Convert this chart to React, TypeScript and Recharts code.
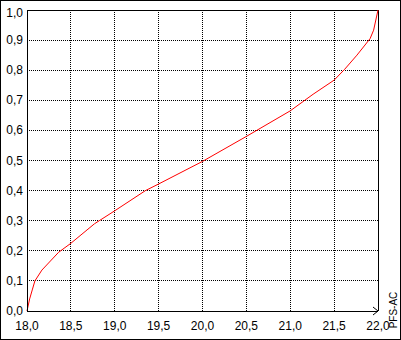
import {
  LineChart,
  Line,
  XAxis,
  YAxis,
  CartesianGrid,
  ReferenceLine,
  ReferenceDot,
} from "recharts";

const xValues = [
  18.0, 18.03, 18.06, 18.09, 18.17, 18.36, 18.5, 18.77, 19.0, 19.35, 19.5,
  20.0, 20.5, 21.0, 21.26, 21.5, 21.62, 21.76, 21.91, 21.95, 22.0,
];
const yValues = [
  0, 0.04, 0.07, 0.1, 0.136, 0.195, 0.225, 0.29, 0.333, 0.4, 0.422, 0.497,
  0.58, 0.665, 0.72, 0.767, 0.803, 0.85, 0.905, 0.933, 1.0,
];
const xTicks = [18, 18.5, 19, 19.5, 20, 20.5, 21, 21.5, 22];
const yTicks = [0, 0.1, 0.2, 0.3, 0.4, 0.5, 0.6, 0.7, 0.8, 0.9, 1.0];
const axisName = "PFS-AC";

const data = xValues.map((x, i) => ({ x, y: yValues[i] }));

const FONT = '"Liberation Sans", Arial, sans-serif';
const fmt = (v: number) => v.toFixed(1).replace(".", ",");

const XTick = ({ x, y, payload }: any) => (
  <text x={x} y={y} dy={19} textAnchor="middle" fontSize={12} fontFamily={FONT} fill="#000">
    {fmt(payload.value)}
  </text>
);

const YTick = ({ x, y, payload }: any) => (
  <text
    x={x}
    y={y}
    dy={payload.value === 1 ? 7 : 4}
    textAnchor="end"
    fontSize={12}
    fontFamily={FONT}
    fill="#000"
  >
    {fmt(payload.value)}
  </text>
);

const AxisName = ({ viewBox }: any) => {
  const cx = viewBox.x + viewBox.width + 19;
  const cy = 310;
  return (
    <text
      x={cx}
      y={cy}
      transform={`rotate(-90, ${cx}, ${cy})`}
      textAnchor="middle"
      fontSize={10}
      fontFamily={FONT}
      fill="#000"
    >
      {axisName}
    </text>
  );
};

const Arrow = ({ cx, cy }: any) => (
  <path
    d={`M${cx - 5},${cy - 4} L${cx},${cy} L${cx - 5},${cy + 4}`}
    fill="none"
    stroke="#000"
    strokeWidth={1}
  />
);

export default function App() {
  return (
    <div
      style={{
        position: "absolute",
        left: 0,
        top: 0,
        width: 401,
        height: 340,
        background: "#fff",
        outline: "1px solid #000",
        outlineOffset: -1,
      }}
    >
      <style>{`.recharts-cartesian-grid line, .recharts-reference-line line, .recharts-cartesian-axis-line { shape-rendering: crispEdges; }`}</style>
      <LineChart
        width={401}
        height={340}
        data={data}
        margin={{ top: 10, right: 23, left: 0, bottom: 0 }}
      >
        <CartesianGrid stroke="#000" strokeDasharray="1 1" />
        <XAxis
          dataKey="x"
          type="number"
          domain={[18, 22]}
          ticks={xTicks}
          height={29}
          tickSize={0}
          tickMargin={0}
          tick={<XTick />}
          axisLine={{ stroke: "#000" }}
          tickLine={false}
          label={{ content: <AxisName /> }}
        />
        <YAxis
          type="number"
          domain={[0, 1]}
          ticks={yTicks}
          width={27}
          tickSize={0}
          tickMargin={4}
          tick={<YTick />}
          axisLine={{ stroke: "#000" }}
          tickLine={false}
        />
        <ReferenceLine y={1} stroke="#000" strokeWidth={1} />
        <ReferenceLine x={22} stroke="#000" strokeWidth={1} />
        <ReferenceDot x={22} y={0} r={0} shape={<Arrow />} ifOverflow="visible" />
        <Line
          type="linear"
          dataKey="y"
          stroke="#ff0000"
          strokeWidth={1}
          dot={false}
          isAnimationActive={false}
        />
      </LineChart>
    </div>
  );
}
